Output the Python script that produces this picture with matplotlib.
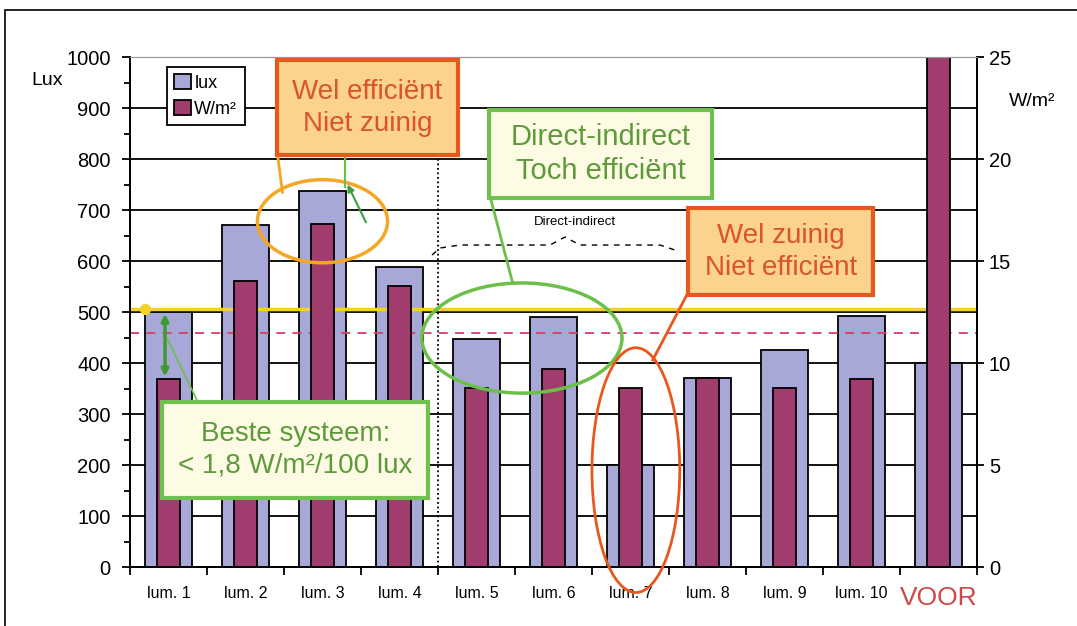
import matplotlib.pyplot as plt
import numpy as np
from matplotlib.patches import Rectangle, Ellipse

plt.rcParams['font.family'] = ['Liberation Sans', 'DejaVu Sans']

# data
labels = ['lum. 1', 'lum. 2', 'lum. 3', 'lum. 4', 'lum. 5', 'lum. 6',
          'lum. 7', 'lum. 8', 'lum. 9', 'lum. 10', 'VOOR']
lux = [500, 670, 738, 588, 448, 490, 200, 370, 425, 492, 400]
wm2 = [9.2, 14.0, 16.8, 13.8, 8.8, 9.7, 8.8, 9.25, 8.8, 9.2, 25.0]
lux_target = 505
wm2_limit = 11.45

light = '#A8A8D8'
dark = '#A03C6E'
orange_txt = '#D9542A'
orange_edge = '#E8581C'
orange_fill = '#FCD38C'
green_txt = '#5E9A3C'
green_edge = '#70C050'
cream = '#FDFBE3'

fig = plt.figure(figsize=(10.77, 6.26), dpi=100)
ax = fig.add_axes([0.1207, 0.0942, 0.7864, 0.8147])
ax2 = ax.twinx()

x = np.arange(len(labels))
ax.bar(x, lux, width=0.61, color=light, edgecolor='black', linewidth=1.3,
       label='lux', zorder=2)
ax2.bar(x, wm2, width=0.30, color=dark, edgecolor='black', linewidth=1.3,
        label='W/m²', zorder=2)

ax.set_xlim(-0.5, 10.5)
ax.set_ylim(0, 1000)
ax2.set_ylim(0, 25)

ax.set_yticks(range(0, 1001, 100))
ax.set_yticks(range(50, 1000, 100), minor=True)
ax.grid(axis='y', which='major', color='black', linewidth=1.3, zorder=0)
ax.set_axisbelow(True)
ax.tick_params(axis='y', which='major', length=6, width=1.3, labelsize=14.5,
               pad=8)
ax.tick_params(axis='y', which='minor', length=4, width=1.3)

ax2.set_yticks(range(0, 26, 5))
ax2.set_yticks(np.arange(2.5, 25, 5), minor=True)
ax2.tick_params(axis='y', which='major', length=5, width=1.3, labelsize=14.5)
ax2.tick_params(axis='y', which='minor', length=0)

ax.set_xticks(np.arange(-0.5, 11, 1))
ax.set_xticklabels([])
ax.set_xticks(x, minor=True)
ax.set_xticklabels(labels, minor=True, fontsize=11.5)
ax.tick_params(axis='x', which='major', length=6, width=1.3)
ax.tick_params(axis='x', which='minor', length=0, pad=14)
voor = ax.get_xticklabels(minor=True)[-1]
voor.set_color('#D04848')
voor.set_fontsize(19)

for a in (ax, ax2):
    a.spines['top'].set_color('#999999')
    a.spines['left'].set_linewidth(1.3)
    a.spines['right'].set_linewidth(1.3)
    a.spines['bottom'].set_linewidth(1.3)

fig.text(0.044, 0.872, 'Lux', fontsize=14, ha='center', va='center')
fig.text(0.958, 0.838, 'W/m²', fontsize=14, ha='center', va='center')

# reference lines
ax.axhline(lux_target, color='#F2D22A', linewidth=2.5, zorder=3)
ax.plot([-0.3], [lux_target], marker='o', color='#F2D22A', markersize=7,
        zorder=3, clip_on=False)
ax2.axhline(wm2_limit, color='#D04060', linewidth=1.3, linestyle=(0, (5, 4)),
            zorder=1)
ax.plot([3.5, 3.5], [0, 800], color='black', linewidth=1.3,
        linestyle=(0, (1, 1.5)), zorder=3)

# legend
h1, l1 = ax.get_legend_handles_labels()
h2, l2 = ax2.get_legend_handles_labels()
leg = ax2.legend(h1 + h2, l1 + l2, loc='upper left', bbox_to_anchor=(0.044, 0.98),
                 borderaxespad=0, fontsize=13, fancybox=False, handlelength=0.9,
                 handleheight=0.9, handletextpad=0.2, borderpad=0.4,
                 labelspacing=0.45, framealpha=1)
leg.get_frame().set_edgecolor('black')
leg.get_frame().set_linewidth(1.3)

T = ax.transData


def box(x0, y0, w, h, text, fc, ec, tc, fs=20):
    ax2.add_patch(Rectangle((x0, y0), w, h, transform=T, facecolor=fc,
                            edgecolor=ec, linewidth=3, zorder=10, clip_on=False))
    ax2.text(x0 + w / 2, y0 + h / 2, text, transform=T, ha='center', va='center',
             color=tc, fontsize=fs, linespacing=1.3, zorder=11)


def line(xs, ys, color, lw=2):
    return ax2.plot(xs, ys, transform=T, color=color, linewidth=lw, zorder=9,
                    clip_on=False)[0]


# ellipses
ax2.add_patch(Ellipse((2.0, 678), 1.69, 163, transform=T, fill=False,
                      edgecolor='#F5A623', linewidth=2.5, zorder=9))
ax2.add_patch(Ellipse((4.59, 449), 2.6, 216, transform=T, fill=False,
                      edgecolor='#6CC04A', linewidth=2.5, zorder=9))
ax2.add_patch(Ellipse((6.07, 190), 1.14, 480, transform=T, fill=False,
                      edgecolor=orange_edge, linewidth=2, zorder=9,
                      clip_on=False))

# connectors
line([1.42, 1.48], [804, 735], '#F5A623')
line([2.29, 2.29], [804, 745], '#6CC04A', 1.5)
ax2.annotate('', xy=(2.31, 755), xytext=(2.58, 671), xycoords=T, textcoords=T,
             arrowprops=dict(arrowstyle='-|>', color='#3CA040', lw=1.5),
             zorder=9)
line([4.18, 4.47], [725, 557], '#6CC04A')
line([6.73, 6.29], [533, 406], orange_edge)
ax2.annotate('', xy=(-0.045, 502), xytext=(-0.045, 368), xycoords=T,
             textcoords=T, arrowprops=dict(arrowstyle='<|-|>', color='#3C9A30',
                                           lw=2.5), zorder=9)
line([0.37, -0.02], [327, 449], '#6CC04A', 1.2)

# direct-indirect brace
bx = np.array([432, 440, 460, 550, 565, 580, 660, 675])
by = np.array([255, 248, 245, 245, 237, 245, 245, 250])
brace = line((bx - 130) / 77 - 0.5, (567 - by) / 0.51, 'black', 1)
brace.set_linestyle((0, (4, 4)))
ax2.text(5.28, 676, 'Direct-indirect', transform=T, ha='center', va='center',
         fontsize=9.5, zorder=11)

# boxes
box(1.41, 808, 2.35, 186, 'Wel efficiënt\nNiet zuinig', orange_fill, orange_edge,
    orange_txt)
box(4.16, 724, 2.90, 172, 'Direct-indirect\nToch efficiënt', cream, green_edge,
    green_txt, 21)
box(6.75, 533, 2.40, 171, 'Wel zuinig\nNiet efficiënt', orange_fill, orange_edge,
    orange_txt)
box(-0.08, 135, 3.45, 189, 'Beste systeem:\n< 1,8 W/m²/100 lux', cream,
    green_edge, green_txt)

fig.add_artist(Rectangle((0.0046, -0.05), 1.2, 0.984 + 0.05,
                         transform=fig.transFigure, fill=False,
                         edgecolor='black', linewidth=1.2))

fig.savefig('out.png', dpi=100)
